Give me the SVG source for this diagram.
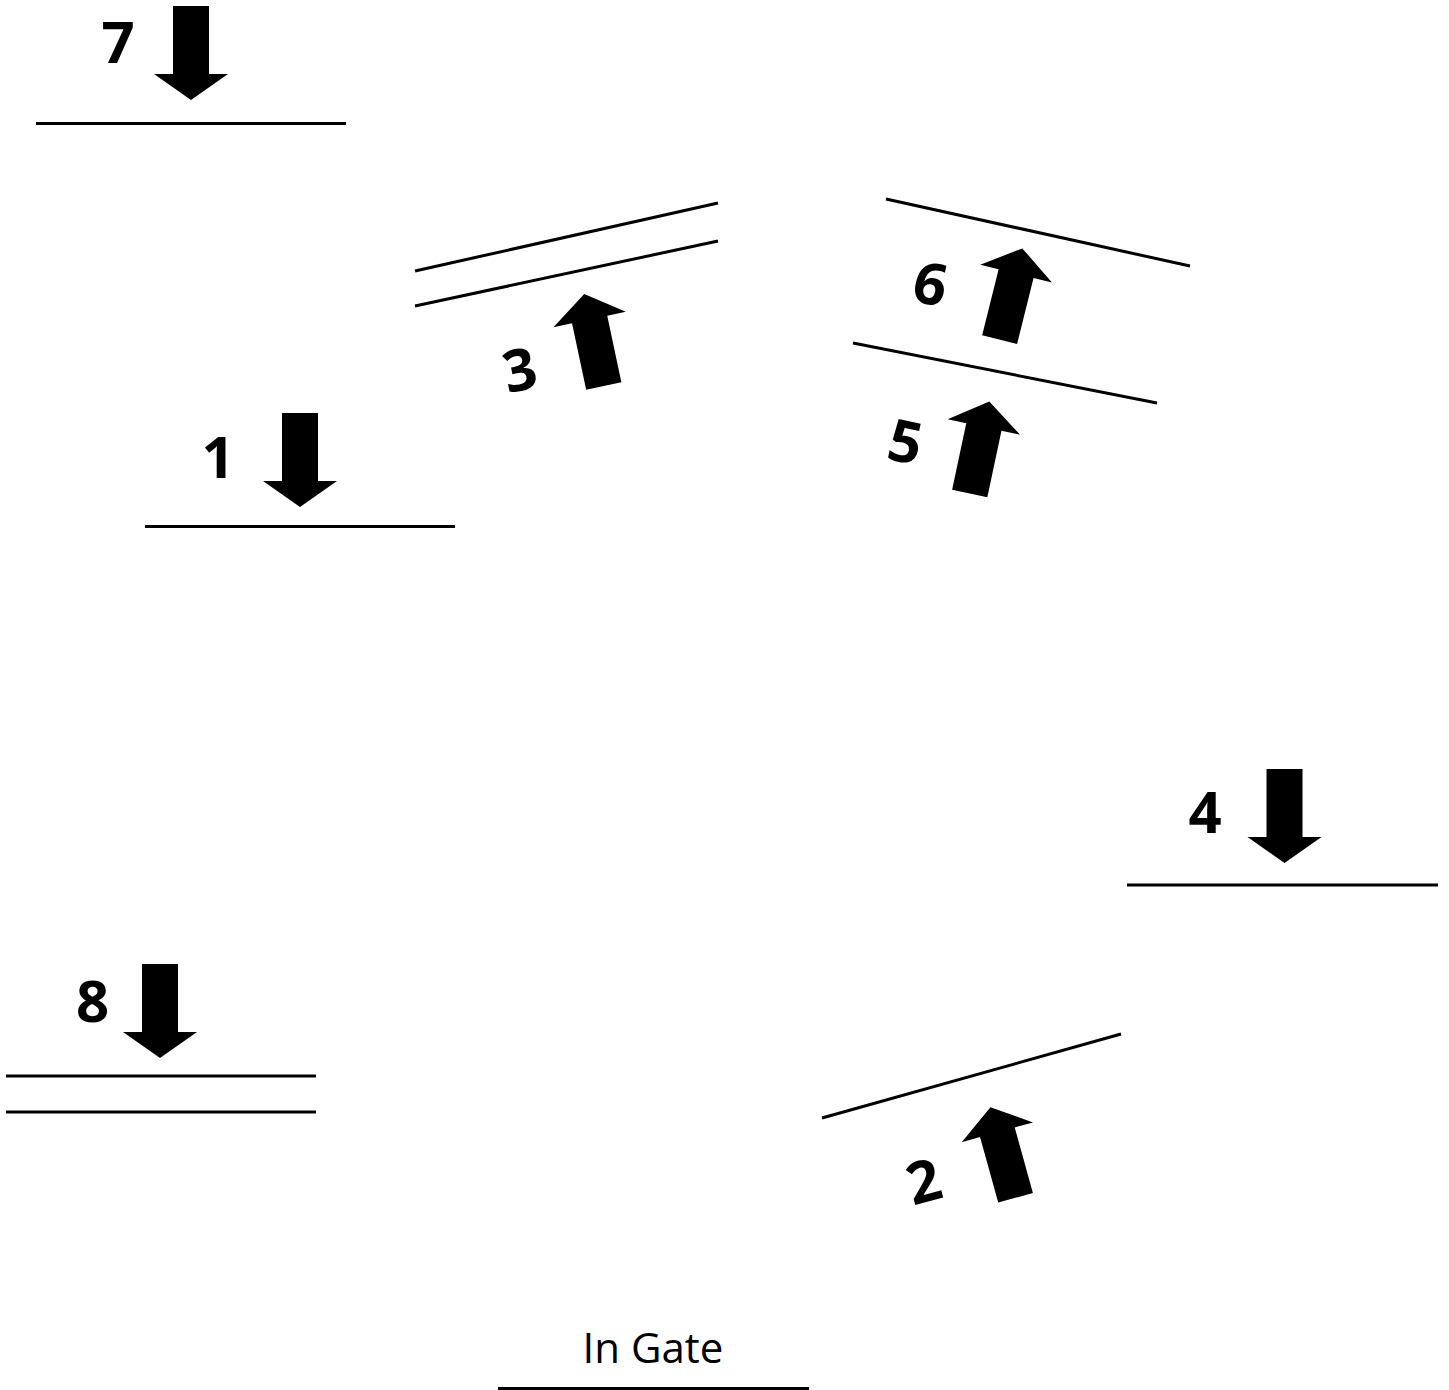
<svg xmlns="http://www.w3.org/2000/svg" xmlns:xlink="http://www.w3.org/1999/xlink" width="1449" height="1390" viewBox="0 0 1449 1390">
<style>
.ln{stroke:#000;stroke-width:3;fill:none;stroke-linecap:butt}
.num{font-family:"Open Sans","DejaVu Sans",sans-serif;font-weight:bold;font-size:58px;fill:#000;text-anchor:middle}
.lbl{font-family:"Open Sans","DejaVu Sans",sans-serif;font-size:42px;fill:#000;text-anchor:middle}
</style>
<defs>
<polygon id="arrowUp" points="0,-47 37,-21 18,-21 18,47 -18,47 -18,-21 -37,-21" fill="#000"/>
</defs>
<rect width="1449" height="1390" fill="#fff"/>
<g id="node7">
<text class="num" x="118" y="63">7</text>
<use xlink:href="#arrowUp" transform="translate(191,53) rotate(180)"/>
<line class="ln" x1="36" y1="123.5" x2="346" y2="123.5"/>
</g>
<g id="node3">
<line class="ln" x1="415" y1="271" x2="718" y2="203"/>
<line class="ln" x1="415" y1="306" x2="718" y2="241"/>
<use xlink:href="#arrowUp" transform="translate(594,340) rotate(-12)"/>
<text class="num" x="519.5" y="390.5" transform="rotate(-12 519.5 369.5)">3</text>
</g>
<g id="node6">
<line class="ln" x1="886" y1="199" x2="1190" y2="266"/>
<use xlink:href="#arrowUp" transform="translate(1011,294) rotate(14)"/>
<text class="num" x="930.5" y="304.5" transform="rotate(12 930.5 283.5)">6</text>
</g>
<g id="node5">
<line class="ln" x1="853" y1="343" x2="1157" y2="403"/>
<use xlink:href="#arrowUp" transform="translate(979.5,447.5) rotate(12)"/>
<text class="num" x="905.5" y="462.5" transform="rotate(12 905.5 441.5)">5</text>
</g>
<g id="node1">
<text class="num" x="218" y="478">1</text>
<use xlink:href="#arrowUp" transform="translate(300,460) rotate(180)"/>
<line class="ln" x1="145" y1="526.5" x2="455" y2="526.5"/>
</g>
<g id="node4">
<text class="num" x="1205" y="833">4</text>
<use xlink:href="#arrowUp" transform="translate(1284.5,816) rotate(180)"/>
<line class="ln" x1="1127" y1="885" x2="1438" y2="885"/>
</g>
<g id="node8">
<text class="num" x="92.5" y="1022">8</text>
<use xlink:href="#arrowUp" transform="translate(160,1011) rotate(180)"/>
<line class="ln" x1="6" y1="1076" x2="316" y2="1076"/>
<line class="ln" x1="6" y1="1112" x2="316" y2="1112"/>
</g>
<g id="node2">
<line class="ln" x1="822" y1="1118" x2="1121" y2="1034"/>
<use xlink:href="#arrowUp" transform="translate(1003,1152.5) rotate(-15.5)"/>
<text class="num" x="923.5" y="1202" transform="rotate(-15 923.5 1181)">2</text>
</g>
<g id="nodeInGate">
<text class="lbl" x="653" y="1363">In Gate</text>
<line class="ln" x1="498" y1="1388.5" x2="809" y2="1388.5"/>
</g>
<g id="connectors"></g>
</svg>
